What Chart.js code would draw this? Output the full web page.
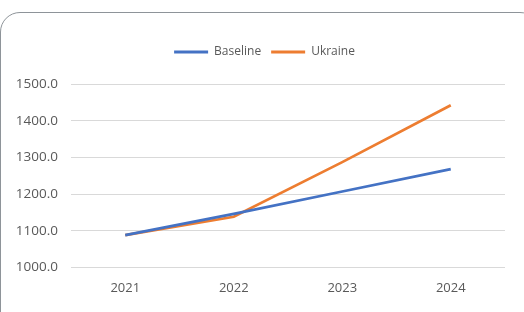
<!DOCTYPE html>
<html>
<head>
    <title>Baseline vs Ukraine</title>
    <script src="https://cdn.jsdelivr.net/npm/chart.js"></script>
    <style>
        body {
            margin: 0;
            padding: 0;
            background: #ffffff;
            overflow: hidden;
        }
        #frame {
            position: absolute;
            left: 0;
            top: 12px;
            width: 540px;
            height: 320px;
            border: 1.5px solid #8e9499;
            border-radius: 20px;
            box-sizing: border-box;
        }
        #chart-container {
            position: absolute;
            left: 0;
            top: 0;
            width: 524px;
            height: 312px;
        }
    </style>
</head>
<body>

<div id="frame"></div>
<div id="chart-container">
    <canvas id="growthChart"></canvas>
</div>

<script>
    const years = ['2021', '2022', '2023', '2024'];
    const baseline = [1088, 1146, 1207, 1268];
    const ukraine = [1088, 1138, 1287, 1442];
    const yTicks = [1000, 1100, 1200, 1300, 1400, 1500];

    // more room under the legend, and nudge it a bit to the right
    const legendTweak = {
        id: 'legendTweak',
        beforeInit(chart) {
            const fit = chart.legend.fit;
            chart.legend.fit = function () {
                fit.call(this);
                this.height += 16;
            };
        },
        afterLayout(chart) {
            chart.legend.left += 12;
            chart.legend.right += 12;
        }
    };

    new Chart(document.getElementById('growthChart'), {
        type: 'line',
        data: {
            labels: years,
            datasets: [
                {
                    label: 'Baseline',
                    data: baseline,
                    borderColor: '#4472c4',
                    backgroundColor: '#4472c4',
                    borderWidth: 2.75,
                    pointRadius: 0,
                    tension: 0
                },
                {
                    label: 'Ukraine',
                    data: ukraine,
                    borderColor: '#ed7d31',
                    backgroundColor: '#ed7d31',
                    borderWidth: 2.75,
                    pointRadius: 0,
                    tension: 0
                }
            ]
        },
        plugins: [legendTweak],
        options: {
            responsive: true,
            maintainAspectRatio: false,
            animation: false,
            layout: {
                padding: { top: 36, right: 19, bottom: 11, left: 0 }
            },
            plugins: {
                legend: {
                    position: 'top',
                    labels: {
                        boxWidth: 34,
                        boxHeight: 3,
                        padding: 10,
                        color: '#595959',
                        font: { family: 'Open Sans', size: 12 },
                        generateLabels: chart => {
                            const items = Chart.defaults.plugins.legend.labels.generateLabels(chart);
                            items.forEach(item => { item.lineWidth = 0; });
                            return items;
                        }
                    }
                },
                tooltip: { enabled: false }
            },
            scales: {
                x: {
                    offset: true,
                    grid: { display: false },
                    border: { display: false },
                    ticks: {
                        color: '#595959',
                        padding: 5,
                        font: { family: 'Open Sans', size: 13 }
                    }
                },
                y: {
                    min: 1000,
                    max: 1500,
                    afterFit: scale => { scale.width = 71; },
                    afterBuildTicks: scale => {
                        scale.ticks = yTicks.map(v => ({ value: v }));
                    },
                    grid: {
                        color: '#d9d9d9',
                        drawTicks: false
                    },
                    border: { display: false },
                    ticks: {
                        color: '#595959',
                        padding: 13,
                        font: { family: 'Open Sans', size: 13.5 },
                        callback: v => v.toFixed(1)
                    }
                }
            }
        }
    });
</script>

</body>
</html>
